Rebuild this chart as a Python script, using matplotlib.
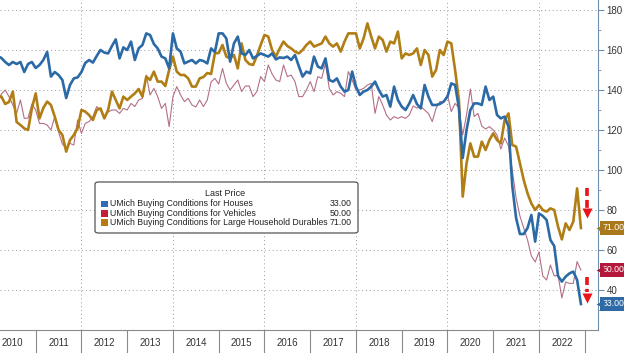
import matplotlib
matplotlib.use("Agg")
import matplotlib.pyplot as plt
import numpy as np
import pandas as pd
from matplotlib.patches import FancyBboxPatch, Rectangle

plt.rcParams['font.family'] = ['Liberation Sans', 'DejaVu Sans']

# monthly data, Mar 2010 - Dec 2022
months = pd.date_range('2010-03-01', '2022-12-01', freq='MS')

houses = [
    157, 156, 154, 152.5, 154, 153, 154, 149, 153, 154,
    151, 152.5, 155, 159, 146.7, 149, 147.5, 145, 136, 142.5,
    145.8, 146.3, 149, 153.5, 155, 153.7, 157, 160, 158.7, 158.3,
    162, 165.3, 155.8, 161.3, 160, 164.2, 155, 160.8, 162.5, 168.3,
    167.5, 163, 160.8, 156.7, 155.8, 150.8, 168.3, 160.8, 159.2, 153.3,
    154.2, 155, 153.3, 155, 154.5, 153.3, 160.8, 159, 168.3, 168.3,
    165.8, 154.2, 163.3, 166.7, 158.3, 157.5, 160, 155.8, 157, 158.3,
    157.5, 156.7, 158.3, 155.3, 156.3, 156, 156.7, 155, 157.5, 152,
    146.7, 149.2, 148.3, 156.7, 151.7, 150.8, 155.8, 145, 144.2, 145.8,
    141.7, 139.2, 140, 149.2, 141.7, 137.5, 139.2, 140, 141.7, 144.2,
    140, 136.7, 137.5, 131.7, 141.7, 135, 131.7, 130, 133.3, 137.5,
    133, 130.8, 142.5, 136.7, 132.5, 132.5, 133, 134.2, 136.7, 143.3,
    142.5, 131, 106, 120, 130, 133.3, 133.3, 132.5, 141.7, 135,
    136.7, 127.5, 125.8, 126.7, 121.7, 92, 76, 68, 68, 71,
    77.5, 64.2, 78.3, 77, 75, 65, 62, 47, 44.2, 46.7,
    48.3, 49.2, 45, 33,
]

vehicles = [
    133, 138, 140, 136.7, 132.5, 128.3, 135, 125.8, 126, 133,
    130, 123.3, 123.3, 122.5, 120, 126.7, 119, 113, 110.8, 113.3,
    112.5, 125, 118.3, 123.3, 124.2, 126.7, 131.7, 130, 126.7, 129,
    130, 130, 128.3, 130.8, 130, 133.3, 131.7, 135, 135.8, 147.5,
    137.5, 140.8, 136.7, 130.8, 133.3, 121.7, 136.7, 141.7, 137.5, 134.2,
    135.8, 132.5, 131.5, 135, 131.7, 135, 144, 145.8, 143, 150.8,
    143.3, 140, 142.5, 145, 139.2, 142, 142, 136.7, 139.2, 146.7,
    144.2, 152.5, 148, 145, 144.2, 152.5, 146.7, 147.5, 144.2, 136.7,
    136.7, 140, 144.2, 139.2, 146.7, 145.8, 153.3, 140.8, 137.5, 139.2,
    138.3, 136.7, 149.2, 145, 140, 140, 140.8, 142.5, 143.3, 128.3,
    136.7, 132.5, 127.5, 125, 126.7, 125.8, 126.7, 125.8, 127.5, 132,
    131, 131.7, 130, 128.3, 124.2, 130.8, 134.2, 134.2, 137.5, 129.2,
    133.3, 131, 117.5, 127.5, 140.5, 126.7, 128.3, 122, 120.5, 121.7,
    120, 117.5, 110.5, 116, 112, 100, 86, 77, 71, 65,
    57, 54, 59, 47, 45, 52.5, 47, 47.5, 36, 44,
    43.3, 43.3, 54.2, 50,
]

durables = [
    137, 136.7, 133, 134, 139.2, 124, 122.5, 120.8, 120, 130.8,
    138.3, 125.8, 131, 134.2, 132.5, 126.7, 120, 117.5, 109.2, 115,
    117.5, 121, 130, 129.2, 127.5, 125, 130, 130.8, 125.8, 130,
    139.2, 135, 130.8, 136.7, 135, 136.7, 138.3, 140.5, 136.7, 146.7,
    145, 149.2, 144.2, 144.2, 142, 150, 156.7, 149.2, 147.5, 147.5,
    145.8, 141.7, 141.7, 145.8, 146.5, 148.5, 148, 158.3, 158.5, 162.5,
    156.7, 155.8, 157.5, 150.8, 163.3, 155, 153, 152.5, 157, 162.5,
    167.5, 166.7, 160, 156.7, 160.8, 164.2, 162, 160.8, 159.2, 158.3,
    160, 162.5, 164.2, 161.7, 162.5, 163.3, 166.7, 163.3, 161.7, 163.3,
    159.2, 164.2, 168.3, 168.3, 168.3, 160.8, 165.8, 173.3, 166.7, 160.8,
    166.7, 165, 159.2, 164.2, 163.3, 169.2, 155.8, 158.3, 157.5, 158.3,
    160.8, 152.5, 160, 157.5, 146.7, 150, 160, 157.5, 164.2, 163.3,
    150, 135, 86.7, 103.3, 113.3, 106.7, 106.7, 114.2, 110, 115,
    118.3, 115, 113.3, 125, 128.3, 112.5, 111.7, 103.3, 95, 88.3,
    83.3, 80, 82.5, 80, 79.2, 80.8, 80, 71.7, 65.3, 73.3,
    70, 74.2, 90.8, 71,
]

names = ["UMich Buying Conditions for Houses",
         "UMich Buying Conditions for Vehicles",
         "UMich Buying Conditions for Large Household Durables"]
last_prices = ["33.00", "50.00", "71.00"]
years = list(range(2010, 2023))
y_ticks = [40, 60, 80, 100, 120, 140, 160, 180]

c_house = '#2b6aa6'
c_veh = '#b36f88'
c_dur = '#b07e15'
c_leg = ['#2f6db5', '#c41e3a', '#b97a14']

t = months.year + (months.month - 1) / 12.0

W, H = 624, 353
fig = plt.figure(figsize=(W / 100, H / 100), dpi=100)
ax = fig.add_axes([0, 23 / H, 598 / W, 330 / H])

ax.plot(t, vehicles, color=c_veh, lw=0.8, zorder=3)
ax.plot(t, durables, color=c_dur, lw=1.9, zorder=4)
ax.plot(t, houses, color=c_house, lw=1.9, zorder=5)

ax.set_xlim(2010.22, 2023.29)
ax.set_ylim(20, 185)

# grid
for v in y_ticks:
    ax.axhline(v, color='#9a9a9a', lw=0.7, ls=(0, (1, 3)), zorder=1)
for yr in range(2012, 2023, 2):
    ax.axvline(yr, color='#9a9a9a', lw=0.7, ls=(0, (1, 3)), zorder=1)

# spines
for s in ['top', 'left']:
    ax.spines[s].set_visible(False)
ax.spines['right'].set_color('#6f8fae')
ax.spines['bottom'].set_color('#8a8a8a')

# y axis on right
ax.yaxis.tick_right()
ax.set_yticks(y_ticks)
ax.set_yticks(range(30, 185, 20), minor=True)
ax.tick_params(axis='y', which='major', length=4, width=0.8, color='#6f8fae',
               labelsize=7, labelcolor='#333333', pad=2)
ax.tick_params(axis='y', which='minor', length=2, width=0.6, color='#6f8fae')

# x axis: year separators + centered labels
ax.set_xticks(range(2011, 2024))
ax.set_xticklabels([])
ax.set_xticks([y + 0.5 for y in years], minor=True)
ax.set_xticklabels([str(y) for y in years], minor=True)
ax.tick_params(axis='x', which='major', length=23, width=0.8, color='#8a8a8a')
ax.tick_params(axis='x', which='minor', length=0, labelsize=7,
               labelcolor='#333333', pad=6)

# value tags at the right edge
ytr = ax.get_yaxis_transform()
for lp, col in zip(last_prices, ['#2e6aa6', '#b5173a', '#a9781a']):
    val = float(lp)
    ax.text(1.0075, val, lp, transform=ytr, fontsize=6.3, color='white',
            va='center', ha='left', clip_on=False, zorder=10,
            bbox=dict(boxstyle='square,pad=0.25', fc=col, ec='none'))
    ax.plot([1.003], [val], marker='<', ms=5.5, color=col, mec='none',
            transform=ytr, clip_on=False, zorder=10)

# red dashed arrows
for top, mid, head in [(91, 81, 78.5), (46.5, 39, 36)]:
    ax.plot([2023.04, 2023.04], [top, mid], color='#e8131b', lw=2.6,
            ls=(0, (2.2, 1.1)), solid_capstyle='butt', zorder=9, clip_on=False)
    ax.plot([2023.04], [head], marker='v', ms=7.5, color='#e8131b',
            mec='none', zorder=9, clip_on=False)

# legend box
ft = fig.transFigure
def fx(x):
    return x / W
def fy(y):
    return 1 - y / H

box = FancyBboxPatch((fx(95), fy(233)), fx(358) - fx(95), fy(182) - fy(233),
                     boxstyle='round,pad=0,rounding_size=0.006',
                     transform=ft, fc='white', ec='#555555', lw=0.9, zorder=20)
fig.patches.append(box)
fig.text(fx(225.5), fy(193), "Last Price", fontsize=6.5, color='#222222',
         ha='center', va='center', zorder=21)
for i, (nm, lp, col) in enumerate(zip(names, last_prices, c_leg)):
    yy = 204 + i * 9.2
    fig.patches.append(Rectangle((fx(101.3), fy(yy + 3.3)), fx(6.7), 6.7 / H,
                                 transform=ft, fc=col, ec='none', zorder=21))
    fig.text(fx(110), fy(yy), nm, fontsize=6.3, color='#222222',
             ha='left', va='center', zorder=21)
    fig.text(fx(352), fy(yy), lp, fontsize=6.3, color='#222222',
             ha='right', va='center', zorder=21)

fig.savefig('out.png', dpi=100)
